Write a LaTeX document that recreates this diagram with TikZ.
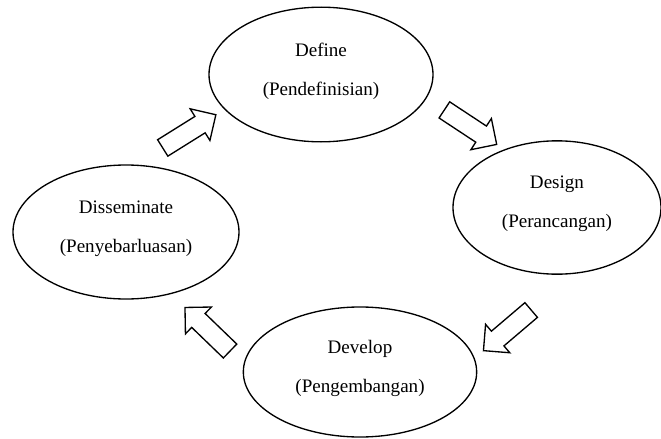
\documentclass[tikz,border=0pt]{standalone}
\usepackage{fontspec}
\setmainfont{Liberation Serif}
\usetikzlibrary{shapes.geometric,shapes.arrows}
\begin{document}
\begin{tikzpicture}[x=0.75pt,y=-0.75pt]
\tikzstyle{every node}=[font=\fontsize{14.3}{29.25}\selectfont]
\tikzstyle{phase}=[draw,ellipse,line width=1pt,align=center,inner sep=0pt]
\tikzstyle{flow}=[draw,single arrow,line width=1pt,inner xsep=0pt,inner ysep=6.75pt,minimum height=47pt,single arrow head extend=6.75pt]
\useasboundingbox (0,0) rectangle (661,439);
\node[phase,minimum width=168pt,minimum height=101pt] (define) at (321,74.5) {Define\\(Pendefinisian)\rule[-8pt]{0pt}{0pt}};
\node[phase,minimum width=156pt,minimum height=100pt] (design) at (557,207.5) {Design\\(Perancangan)\rule[-8pt]{0pt}{0pt}};
\node[phase,minimum width=175pt,minimum height=97.5pt] (develop) at (360,372) {Develop\\(Pengembangan)\rule[-8pt]{0pt}{0pt}};
\node[phase,minimum width=169.5pt,minimum height=100.5pt] (disseminate) at (126,232) {Disseminate\\(Penyebarluasan)\rule[-8pt]{0pt}{0pt}};
\node[flow,rotate=32] (todefine) at (185.2,133.9) {};
\node[flow,rotate=-33.4] (todesign) at (466.5,124.5) {};
\node[flow,rotate=220.4] (todevelop) at (511,327.2) {};
\node[flow,rotate=136] (todisseminate) at (211,332.6) {};
\end{tikzpicture}
\end{document}
